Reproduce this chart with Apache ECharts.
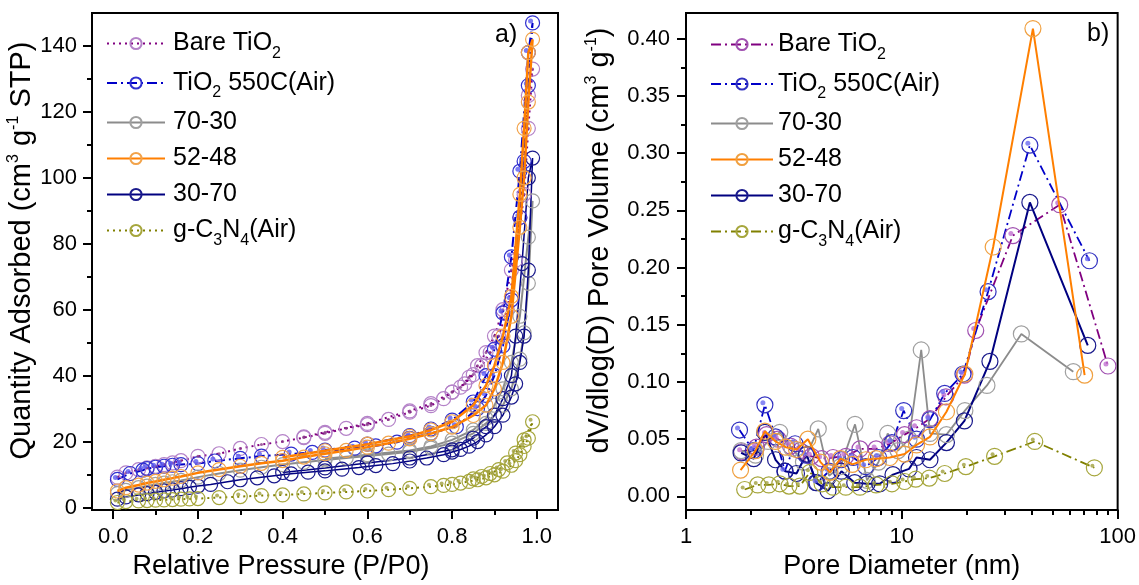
<!DOCTYPE html>
<html><head><meta charset="utf-8">
<script src="https://cdn.jsdelivr.net/npm/echarts@6/dist/echarts.min.js"></script>
<style>html,body{margin:0;padding:0;background:#fff}#c{width:1139px;height:585px}</style>
</head><body><div id="c"></div>
<script>
// ---------- names & ticks ----------
const seriesNames = ['Bare TiO2','TiO2 550C(Air)','70-30','52-48','30-70','g-C3N4(Air)'];
const pressureTicks = [0, 0.2, 0.4, 0.6, 0.8, 1.0];
const pressureMinor = [0.1, 0.3, 0.5, 0.7, 0.9];
const quantityTicks = [0, 20, 40, 60, 80, 100, 120, 140];
const quantityMinor = [10, 30, 50, 70, 90, 110, 130];
const diameterTicks = [1, 10, 100];
const diameterMinor = [2,3,4,5,6,7,8,9,20,30,40,50,60,70,80,90];
const volumeTicks = [0, 0.05, 0.10, 0.15, 0.20, 0.25, 0.30, 0.35, 0.40];
const volumeMinor = [0.025, 0.075, 0.125, 0.175, 0.225, 0.275, 0.325, 0.375];

// ---------- panel a) isotherms (adsorption / desorption) ----------
const bareAdsP = [0.01,0.03,0.06,0.08,0.10,0.12,0.14,0.16,0.20,0.25,0.30,0.35,0.40,0.45,0.50,0.55,0.60,0.65,0.70,0.75,0.78,0.80,0.83,0.85,0.87,0.89,0.91,0.93,0.95,0.97,0.98,0.99];
const bareAdsV = [9.2,10.5,11.5,12.0,12.5,13.0,13.5,14.2,15.5,16.3,17.9,19.1,20.0,21.2,22.5,24.0,25.1,26.7,28.9,30.9,33.0,35.0,37.5,40.3,43.0,47.0,52.0,60.0,75.0,95.0,115.0,133.0];
const bareDesP = [0.98,0.96,0.94,0.92,0.90,0.88,0.86,0.84,0.82,0.80,0.75,0.70,0.60,0.50,0.45];
const bareDesV = [125,88,72,60,52,47,43,39.5,36.5,35,31.5,29.3,25.5,22.8,21.4];

const airAdsP = [0.01,0.04,0.07,0.08,0.10,0.12,0.14,0.16,0.20,0.24,0.30,0.35,0.42,0.47,0.57,0.62,0.67,0.70,0.75,0.81,0.86,0.88,0.90,0.92,0.94,0.96,0.97,0.98,0.99];
const airAdsV = [8.5,10.3,11.3,11.8,12.2,12.5,12.8,13.0,13.3,14.1,14.9,15.6,16.2,16.7,18.0,18.7,19.8,21.0,22.5,24.5,30.0,34.0,40.0,49.0,63.0,88.0,105.0,128.0,147.0];
const airDesP = [0.98,0.96,0.94,0.92,0.90,0.88,0.85,0.80,0.75,0.70,0.60,0.50];
const airDesV = [138,102,76,59,48,40,32,26.5,23.8,21.8,19.2,17.4];

const s7030AdsP = [0.01,0.03,0.06,0.08,0.10,0.12,0.14,0.16,0.20,0.25,0.30,0.35,0.40,0.45,0.50,0.55,0.60,0.65,0.70,0.75,0.80,0.85,0.88,0.90,0.92,0.94,0.96,0.97,0.98,0.99];
const s7030AdsV = [4.2,5.2,6.0,6.5,7.0,7.4,7.8,8.2,9.2,10.3,11.3,12.2,13.0,13.7,14.4,15.0,15.6,16.2,16.9,18.0,19.5,22.5,25.5,28,31,36,45,53,68,93];
const s7030DesP = [0.98,0.96,0.94,0.92,0.90,0.88,0.85,0.80,0.75,0.70,0.60,0.50];
const s7030DesV = [82,58,44,36,31,27,23.5,20.5,18.5,17.3,16,14.8];

const s5248AdsP = [0.01,0.03,0.06,0.08,0.10,0.12,0.14,0.16,0.20,0.25,0.30,0.35,0.40,0.45,0.50,0.55,0.60,0.65,0.70,0.75,0.80,0.85,0.88,0.90,0.92,0.94,0.96,0.97,0.98,0.99];
const s5248AdsV = [5.0,6.0,6.8,7.4,7.9,8.4,8.9,9.4,10.5,11.5,12.5,13.4,14.2,15.3,16.3,17.3,18.3,19.5,20.8,22.4,24.4,27.9,31,36,44,58,85,100,123,142];
const s5248DesP = [0.98,0.97,0.96,0.94,0.92,0.90,0.88,0.85,0.80,0.75,0.70,0.60,0.50,0.40];
const s5248DesV = [138,115,95,64,52,43,37,31,26,23.5,21.6,19.2,17.2,15.2];

const s3070AdsP = [0.01,0.03,0.06,0.08,0.10,0.12,0.14,0.16,0.18,0.20,0.23,0.27,0.30,0.34,0.38,0.42,0.46,0.50,0.54,0.58,0.62,0.66,0.70,0.74,0.78,0.80,0.82,0.84,0.86,0.88,0.90,0.92,0.94,0.95,0.96,0.97,0.98,0.99];
const s3070AdsV = [2.5,3.2,3.8,4.2,4.6,5.0,5.3,5.7,6.1,6.5,7.0,7.8,8.4,9.0,9.6,10.2,10.7,11.1,11.6,12.1,12.7,13.3,14.1,15.0,16.0,16.8,17.6,18.6,20,22,24.5,28,33.5,37.5,44,52,72,106];
const s3070DesP = [0.98,0.965,0.95,0.94,0.92,0.90,0.88,0.85,0.80,0.70,0.60,0.50,0.40];
const s3070DesV = [100,74,52,40,33,28,24.5,21,17.5,15,13.5,12,10.6];

const gcnAdsP = [0.01,0.03,0.06,0.08,0.10,0.12,0.14,0.16,0.18,0.20,0.25,0.30,0.35,0.40,0.45,0.50,0.55,0.60,0.65,0.70,0.75,0.78,0.80,0.82,0.84,0.86,0.88,0.90,0.92,0.94,0.95,0.96,0.97,0.98,0.99];
const gcnAdsV = [1.5,1.8,2.0,2.1,2.2,2.3,2.4,2.5,2.6,2.7,3.0,3.3,3.6,3.8,4.1,4.4,4.7,5.0,5.4,5.8,6.3,6.7,7.0,7.4,7.9,8.4,9.0,9.9,11.0,12.8,14.2,16.0,18.5,21.0,26.0];
const gcnDesP = [0.97,0.95,0.93,0.91,0.89,0.87,0.85];
const gcnDesV = [20.5,16.5,13.5,11.5,10.3,9.4,8.7];

// ---------- panel b) pore size distributions ----------
const bareD  = [1.81,2.12,2.36,2.67,3.05,3.37,3.81,4.25,4.8,5.5,6.4,7.6,8.8,10.3,11.7,13.5,16.0,19.5,22.0,32.7,53.9,90.2];
const bareDV = [0.039,0.043,0.054,0.050,0.044,0.040,0.035,0.033,0.034,0.035,0.0415,0.0415,0.046,0.054,0.060,0.068,0.087,0.106,0.145,0.228,0.255,0.114];
const airD  = [1.77,2.05,2.32,2.6,2.87,3.2,3.6,4.05,4.6,5.25,5.95,6.8,7.8,9.0,10.2,11.7,13.5,15.8,19.2,25.1,39.2,74];
const airDV = [0.058,0.040,0.080,0.052,0.022,0.046,0.036,0.012,0.022,0.032,0.034,0.026,0.034,0.047,0.075,0.050,0.067,0.090,0.107,0.179,0.307,0.206];
const d7030D  = [1.8,2.1,2.4,2.72,3.1,3.5,4.1,4.6,5.2,6.07,6.9,7.8,8.6,9.6,10.8,12.3,13.5,16.1,19.6,24.8,35.8,62.3];
const d7030DV = [0.040,0.036,0.048,0.056,0.042,0.030,0.059,0.018,0.026,0.063,0.014,0.030,0.055,0.040,0.050,0.128,0.055,0.054,0.075,0.097,0.142,0.109];
const d5248D  = [1.79,2.1,2.32,2.6,2.9,3.25,3.67,4.2,4.65,5.2,5.9,6.8,7.6,8.8,10.3,11.7,13.5,16.1,19.6,26.5,40.5,70.3];
const d5248DV = [0.023,0.040,0.057,0.048,0.043,0.041,0.050,0.030,0.021,0.033,0.028,0.032,0.033,0.034,0.037,0.045,0.052,0.074,0.107,0.218,0.409,0.106];
const d3070D  = [1.8,2.06,2.32,2.6,2.88,3.25,3.62,4.0,4.55,5.25,6.05,6.9,7.9,9.1,10.8,11.7,13.5,16.1,19.5,25.6,39.2,72.7];
const d3070DV = [0.038,0.033,0.056,0.032,0.022,0.020,0.037,0.012,0.005,0.022,0.012,0.011,0.011,0.019,0.024,0.034,0.032,0.047,0.066,0.118,0.257,0.132];
const gcnD  = [1.87,2.15,2.42,2.72,3.0,3.37,3.75,4.27,4.8,5.5,6.4,7.6,9.0,10.3,11.6,13.4,15.8,19.8,26.9,41.3,78];
const gcnDV = [0.006,0.010,0.010,0.011,0.009,0.009,0.021,0.011,0.008,0.008,0.008,0.010,0.011,0.013,0.015,0.016,0.020,0.026,0.035,0.048,0.025];

// ---------- styling ----------
const FONT = '"Liberation Sans", Arial, Helvetica, sans-serif';
const richTitle = {
  sup: {fontSize: 16, padding: [0,0,16,0], fontFamily: FONT, color: '#000'}
};
const richLegend = {
  sub: {fontSize: 16, padding: [20,0,0,0], fontFamily: FONT, color: '#000'}
};
const legendText = {
  'Bare TiO2': 'Bare TiO{sub|2}',
  'TiO2 550C(Air)': 'TiO{sub|2} 550C(Air)',
  '70-30': '70-30', '52-48': '52-48', '30-70': '30-70',
  'g-C3N4(Air)': 'g-C{sub|3}N{sub|4}(Air)'
};
const B_SUFFIX = ' [b]';
function legendFormatter(n) { return legendText[n.replace(B_SUFFIX, '')] || n; }

const styleA = [
  {line:'#800080', sym:'#b482c8', w:2,   type:[2,4],        dot:'#8a3a8a', dotSize:3, dotOff:[0,0]},
  {line:'#0000c8', sym:'#2f2fcf', w:2,   type:[10,4,2,4],   dot:'#5a5af0', dotSize:5, dotOff:[-2,-2]},
  {line:'#8c8c8c', sym:'#a0a0a0', w:2,   type:'solid'},
  {line:'#ff7f00', sym:'#f2a34a', w:2.5, type:'solid', z:4},
  {line:'#000080', sym:'#1a1a8c', w:1.5, type:'solid'},
  {line:'#808000', sym:'#a6a63c', w:2,   type:[2,4],        dot:'#a0a040', dotSize:4, dotOff:[-2,-2]}
];
const styleB = [
  {line:'#800080', sym:'#a050b0', w:1.8, type:[10,4,2,4],   dot:'#c070d0', dotSize:5, dotOff:[-2,-2]},
  {line:'#0000c8', sym:'#3030c0', w:1.8, type:[10,4,2,4],   dot:'#6a6af0', dotSize:5, dotOff:[-2,-2]},
  {line:'#8c8c8c', sym:'#a0a0a0', w:1.8, type:'solid'},
  {line:'#ff7f00', sym:'#f0a040', w:2,   type:'solid', z:4},
  {line:'#000080', sym:'#1a1a8c', w:2,   type:'solid'},
  {line:'#808000', sym:'#a6a63c', w:1.8, type:[10,4,2,4],   dot:'#a0a040', dotSize:4, dotOff:[-2,-2]}
];

function zip(x, y) { return x.map((v, i) => [v, y[i]]); }

const panelA = [
  zip(bareAdsP.concat(bareDesP), bareAdsV.concat(bareDesV)),
  zip(airAdsP.concat(airDesP), airAdsV.concat(airDesV)),
  zip(s7030AdsP.concat(s7030DesP), s7030AdsV.concat(s7030DesV)),
  zip(s5248AdsP.concat(s5248DesP), s5248AdsV.concat(s5248DesV)),
  zip(s3070AdsP.concat(s3070DesP), s3070AdsV.concat(s3070DesV)),
  zip(gcnAdsP.concat(gcnDesP), gcnAdsV.concat(gcnDesV))
];
const panelB = [
  zip(bareD, bareDV), zip(airD, airDV), zip(d7030D, d7030DV),
  zip(d5248D, d5248DV), zip(d3070D, d3070DV), zip(gcnD, gcnDV)
];

function lineSeries(name, data, axis, st, size) {
  return {
    type: 'line', name, data, xAxisIndex: axis, yAxisIndex: axis,
    symbol: 'circle', symbolSize: size, showSymbol: true, showAllSymbol: true,
    lineStyle: {color: st.line, width: st.w, type: st.type},
    itemStyle: {color: 'rgba(255,255,255,0)', borderColor: st.sym, borderWidth: 1.2},
    emphasis: {disabled: true}, z: st.z || 2, clip: false
  };
}
function dotSeries(data, axis, st) {
  return {
    type: 'scatter', data, xAxisIndex: axis, yAxisIndex: axis, silent: true,
    symbol: 'circle', symbolSize: st.dotSize, symbolOffset: st.dotOff,
    itemStyle: {color: st.dot}, z: (st.z || 2) + 1
  };
}

const series = [];
seriesNames.forEach((n, i) => {
  series.push(lineSeries(n, panelA[i], 0, styleA[i], 14));
  if (styleA[i].dot) series.push(dotSeries(panelA[i], 0, styleA[i]));
});
seriesNames.forEach((n, i) => {
  series.push(lineSeries(n + B_SUFFIX, panelB[i], 2, styleB[i], 16));
  if (styleB[i].dot) series.push(dotSeries(panelB[i], 2, styleB[i]));
});

const axisLineStyle = {color: '#000', width: 2};
const labelStyle = {fontSize: 22, color: '#000', fontFamily: FONT};
const xNameStyle = {fontSize: 27, color: '#000', fontFamily: FONT, rich: richTitle};
const yNameStyle = {fontSize: 29, color: '#000', fontFamily: FONT, rich: richTitle};

function minorAxis(grid, type, min, max, pos, vals) {
  const a = {gridIndex: grid, type, min, max, position: pos,
    axisLine: {show: false, onZero: false}, axisLabel: {show: false}, splitLine: {show: false},
    axisTick: {show: true, inside: false, customValues: vals, length: 5, lineStyle: axisLineStyle}};
  if (type === 'log') a.logBase = 10;
  return a;
}

const legendBase = {
  orient: 'vertical', itemHeight: 14, itemGap: 7, selectedMode: false, padding: 0,
  formatter: legendFormatter
};

const option = {
  animation: false,
  backgroundColor: '#fff',
  grid: [
    {left: 92, top: 13, width: 466, height: 507, show: true, borderColor: '#000', borderWidth: 2, containLabel: false},
    {left: 686, top: 13, width: 432, height: 512, show: true, borderColor: '#000', borderWidth: 2, containLabel: false}
  ],
  xAxis: [
    {gridIndex: 0, type: 'value', min: -0.05, max: 1.05, position: 'bottom',
     axisLine: {onZero: false, lineStyle: axisLineStyle},
     axisTick: {customValues: pressureTicks, length: 9, lineStyle: axisLineStyle},
     axisLabel: Object.assign({customValues: pressureTicks, margin: 16, formatter: v => v.toFixed(1)}, labelStyle),
     splitLine: {show: false},
     name: 'Relative Pressure (P/P0)', nameLocation: 'middle', nameGap: 37,
     nameTextStyle: Object.assign({}, xNameStyle, {padding: [0, 88, 0, 0]})},
    minorAxis(0, 'value', -0.05, 1.05, 'bottom', pressureMinor),
    {gridIndex: 1, type: 'log', logBase: 10, min: 1, max: 100, position: 'bottom',
     axisLine: {onZero: false, lineStyle: axisLineStyle},
     axisTick: {customValues: diameterTicks, length: 9, lineStyle: axisLineStyle},
     axisLabel: Object.assign({customValues: diameterTicks, margin: 16}, labelStyle),
     splitLine: {show: false}, minorTick: {show: false},
     name: 'Pore Diameter (nm)', nameLocation: 'middle', nameGap: 33, nameTextStyle: xNameStyle},
    minorAxis(1, 'log', 1, 100, 'bottom', diameterMinor)
  ],
  yAxis: [
    {gridIndex: 0, type: 'value', min: -0.8, max: 150, position: 'left',
     axisLine: {onZero: false, lineStyle: axisLineStyle},
     axisTick: {customValues: quantityTicks, length: 9, lineStyle: axisLineStyle},
     axisLabel: Object.assign({customValues: quantityTicks, margin: 15}, labelStyle),
     splitLine: {show: false},
     name: 'Quantity Adsorbed (cm{sup|3} g{sup|-1} STP)', nameLocation: 'middle', nameGap: 52,
     nameTextStyle: Object.assign({}, yNameStyle, {padding: [0, 0, 0, 22]})},
    minorAxis(0, 'value', -0.8, 150, 'left', quantityMinor),
    {gridIndex: 1, type: 'value', min: -0.012, max: 0.4226, position: 'left',
     axisLine: {onZero: false, lineStyle: axisLineStyle},
     axisTick: {customValues: volumeTicks, length: 9, lineStyle: axisLineStyle},
     axisLabel: Object.assign({customValues: volumeTicks, margin: 16, formatter: v => v.toFixed(2)}, labelStyle),
     splitLine: {show: false},
     name: 'dV/dlog(D) Pore Volume (cm{sup|3} g{sup|-1})', nameLocation: 'middle', nameGap: 70,
     nameTextStyle: Object.assign({}, yNameStyle, {padding: [0, 0, 0, 42]})},
    minorAxis(1, 'value', -0.012, 0.4226, 'left', volumeMinor)
  ],
  legend: [
    Object.assign({}, legendBase, {
      data: seriesNames.slice(), left: 106, top: 29, itemWidth: 58,
      textStyle: {fontSize: 25, lineHeight: 29, color: '#000', fontFamily: FONT, padding: [0, 0, 0, 3], rich: richLegend}}),
    Object.assign({}, legendBase, {
      data: seriesNames.map(n => n + B_SUFFIX), left: 710, top: 30, itemWidth: 62,
      textStyle: {fontSize: 25, lineHeight: 29, color: '#000', fontFamily: FONT, padding: [0, 0, 0, 0], rich: richLegend}})
  ],
  graphic: [
    {type: 'text', left: 495, top: 23, style: {text: 'a)', fontSize: 25, fontFamily: FONT, fill: '#000'}},
    {type: 'text', left: 1087, top: 22, style: {text: 'b)', fontSize: 25, fontFamily: FONT, fill: '#000'}}
  ],
  series
};

const chart = echarts.init(document.getElementById('c'), null, {renderer: 'canvas'});
chart.setOption(option);
</script>
</body></html>
